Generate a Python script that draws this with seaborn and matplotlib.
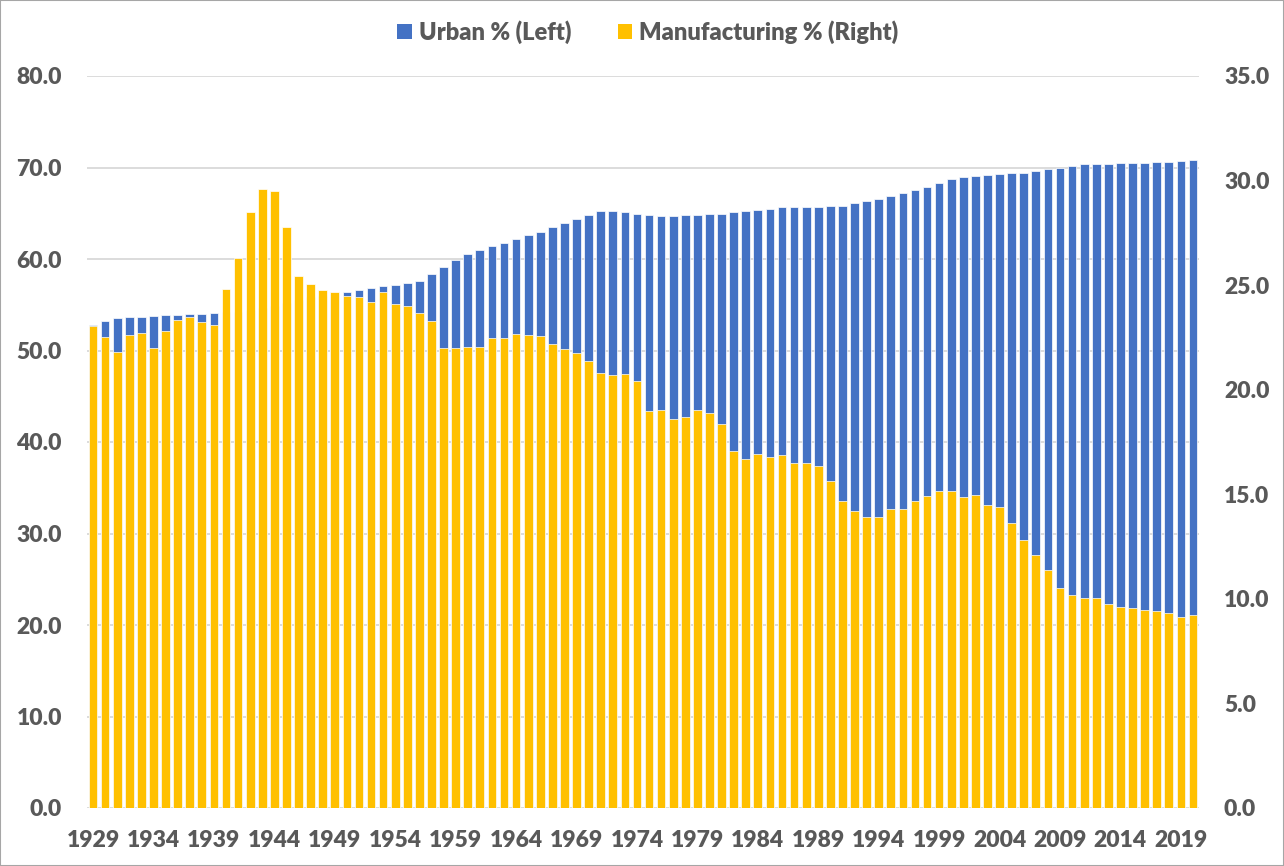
import numpy as np
import pandas as pd
import matplotlib
matplotlib.use("Agg")
import matplotlib.pyplot as plt
from matplotlib.patches import Patch, Rectangle
import seaborn as sns

years = list(range(1929, 2021))

urban_pct = [
    52.8, 53.2, 53.6, 53.7, 53.7, 53.8, 53.9, 53.9, 54.0, 54.0,   # 1929-1938
    54.1, 54.2, 54.25, 54.4, 54.6, 54.9, 55.2, 55.5, 55.8, 56.0,  # 1939-1948
    56.2, 56.4, 56.6, 56.8, 57.0, 57.2, 57.4, 57.6, 58.4, 59.1,   # 1949-1958
    59.85, 60.6, 61.0, 61.4, 61.8, 62.2, 62.6, 63.0, 63.5, 63.9,  # 1959-1968
    64.4, 64.85, 65.3, 65.2, 65.1, 64.95, 64.8, 64.7, 64.75, 64.8,  # 1969-1978
    64.8, 64.9, 64.9, 65.1, 65.2, 65.4, 65.5, 65.7, 65.7, 65.7,   # 1979-1988
    65.7, 65.8, 65.8, 66.1, 66.3, 66.6, 66.9, 67.2, 67.5, 67.9,   # 1989-1998
    68.3, 68.7, 69.0, 69.1, 69.2, 69.3, 69.4, 69.4, 69.6, 69.8,   # 1999-2008
    70.0, 70.2, 70.35, 70.4, 70.4, 70.45, 70.5, 70.5, 70.55, 70.6,  # 2009-2018
    70.7, 70.8,                                                   # 2019-2020
]

manufacturing_pct = [
    23.05, 22.5, 21.8, 22.6, 22.7, 22.0, 22.8, 23.35, 23.5, 23.25,  # 1929-1938
    23.1, 24.8, 26.3, 28.5, 29.6, 29.5, 27.8, 25.45, 25.05, 24.75,  # 1939-1948
    24.65, 24.5, 24.45, 24.2, 24.65, 24.1, 24.0, 23.65, 23.3, 22.0,  # 1949-1958
    22.0, 22.05, 22.05, 22.45, 22.45, 22.65, 22.6, 22.55, 22.2, 21.95,  # 1959-1968
    21.75, 21.35, 20.8, 20.7, 20.75, 20.4, 19.0, 19.05, 18.6, 18.7,  # 1969-1978
    19.05, 18.9, 18.35, 17.05, 16.7, 16.95, 16.8, 16.9, 16.5, 16.5,  # 1979-1988
    16.35, 15.65, 14.7, 14.2, 13.9, 13.9, 14.3, 14.3, 14.7, 14.9,   # 1989-1998
    15.15, 15.15, 14.85, 14.95, 14.5, 14.4, 13.65, 12.8, 12.1, 11.4,  # 1999-2008
    10.5, 10.2, 10.05, 10.05, 9.75, 9.6, 9.55, 9.45, 9.4, 9.3,      # 2009-2018
    9.15, 9.25,                                                      # 2019-2020
]

left_ticks = [0, 10, 20, 30, 40, 50, 60, 70, 80]
right_ticks = [0, 5, 10, 15, 20, 25, 30, 35]
series_labels = ["Urban % (Left)", "Manufacturing % (Right)"]

BLUE = "#4472C4"
YELLOW = "#FFC000"
TXT = "#595959"
GRID = "#D9D9D9"
FS = 16.5

sns.set_theme(style="white")
plt.rcParams["font.family"] = ["Lato", "DejaVu Sans"]
plt.rcParams["font.weight"] = "bold"

df = pd.DataFrame({"year": [str(y) for y in years],
                   "urban": urban_pct,
                   "manuf": manufacturing_pct})

fig = plt.figure(figsize=(12.84, 8.66), dpi=100)
ax = fig.add_axes([87 / 1284, 1 - 808 / 866, (1199 - 87) / 1284, (808 - 76) / 866])
ax2 = ax.twinx()

sns.barplot(data=df, x="year", y="urban", color=BLUE, saturation=1,
            width=0.72, ax=ax, edgecolor="white", linewidth=0.5, zorder=2)
sns.barplot(data=df, x="year", y="manuf", color=YELLOW, saturation=1,
            width=0.72, ax=ax2, edgecolor="white", linewidth=0.5, zorder=2)

ax.set_ylim(0, 80)
ax2.set_ylim(0, 35)
ax.set_xlim(-0.5, len(years) - 0.5)
ax2.set_xlim(-0.5, len(years) - 0.5)

ax.set_yticks(left_ticks)
ax.set_yticklabels([f"{v:.1f}" for v in left_ticks])
ax2.set_yticks(right_ticks)
ax2.set_yticklabels([f"{v:.1f}" for v in right_ticks])

xt = list(range(0, len(years), 5))
ax.set_xticks(xt)
ax.set_xticklabels([str(years[i]) for i in xt])

ax.yaxis.grid(True, color=GRID, linewidth=1.3, zorder=0)
ax.set_axisbelow(True)
ax2.grid(False)

for a in (ax, ax2):
    for s in a.spines.values():
        s.set_visible(False)
    a.set_xlabel("")
    a.set_ylabel("")

ax.tick_params(axis="y", length=0, pad=18, labelsize=FS, labelcolor=TXT)
ax2.tick_params(axis="y", length=0, pad=18, labelsize=FS, labelcolor=TXT)
ax.tick_params(axis="x", length=0, pad=16, labelsize=FS, labelcolor=TXT)
for lbl in ax.get_xticklabels() + ax.get_yticklabels() + ax2.get_yticklabels():
    lbl.set_fontweight("heavy")

handles = [Patch(facecolor=BLUE, edgecolor="none"),
           Patch(facecolor=YELLOW, edgecolor="none")]
leg = fig.legend(handles, series_labels, loc="center",
                 bbox_to_anchor=(648 / 1284, 1 - 32 / 866), ncol=2, frameon=False,
                 handlelength=0.6, handleheight=0.6, handletextpad=0.3,
                 columnspacing=2.0, prop={"size": 17, "weight": "heavy"})
for t in leg.get_texts():
    t.set_color(TXT)

fig.patches.append(Rectangle((0, 0), 1, 1, transform=fig.transFigure, fill=False,
                             edgecolor="#A6A6A6", linewidth=1.5))

fig.savefig("out.png", dpi=100)
